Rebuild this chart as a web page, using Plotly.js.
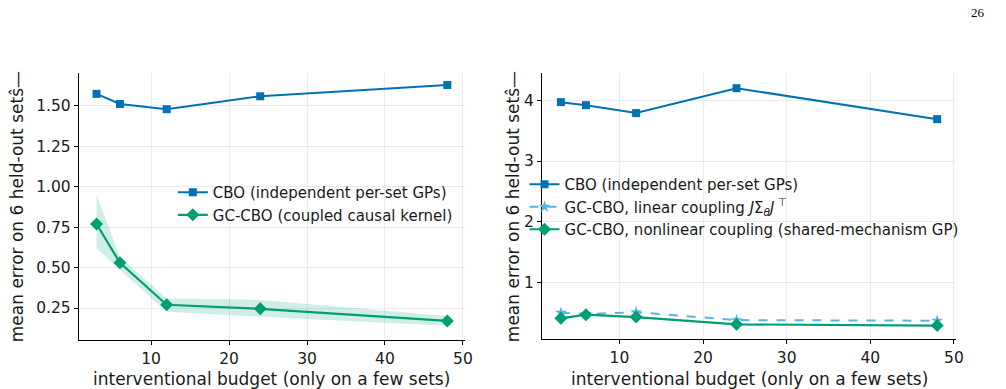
<!DOCTYPE html>
<html>
<head>
<meta charset="utf-8">
<script src="https://cdn.plot.ly/plotly-3.0.1.min.js"></script>
<style>html,body{margin:0;padding:0;background:#fff;}#chart{width:1006px;height:389px;}</style>
</head>
<body>
<div id="chart"></div>
<script>
// Interventional budgets shared by both panels
const budgets = [3, 6, 12, 24, 48];

// Left panel: mean error
const cboLeft = [1.575, 1.512, 1.48, 1.56, 1.63];
const gcLeft = [0.77, 0.53, 0.27, 0.245, 0.17];
const gcLeftUpper = [0.95, 0.566, 0.31, 0.30, 0.20];
const gcLeftLower = [0.62, 0.485, 0.227, 0.196, 0.14];

// Right panel: mean error
const cboRight = [3.97, 3.92, 3.79, 4.20, 3.69];
const linRight = [0.50, 0.48, 0.51, 0.38, 0.37];
const nonlinRight = [0.41, 0.47, 0.43, 0.31, 0.29];

const leftYTicks = [0.25, 0.50, 0.75, 1.00, 1.25, 1.50];
const rightYTicks = [1, 2, 3, 4];
const xTicks = [10, 20, 30, 40, 50];

const BLUE = '#0072B2', GREEN = '#009E73', LIGHT = '#56B4E9';
const FONT = 'DejaVu Sans, sans-serif';
const TXT = '#1a1a1a';

const traces = [
  {x: budgets, y: gcLeftLower, xaxis: 'x', yaxis: 'y', mode: 'lines',
   line: {width: 0, color: 'rgba(0,0,0,0)'}, showlegend: false, hoverinfo: 'skip'},
  {x: budgets, y: gcLeftUpper, xaxis: 'x', yaxis: 'y', mode: 'lines', fill: 'tonexty',
   fillcolor: 'rgba(0,158,115,0.18)', line: {width: 0, color: 'rgba(0,0,0,0)'},
   showlegend: false, hoverinfo: 'skip'},
  {x: budgets, y: cboLeft, xaxis: 'x', yaxis: 'y', mode: 'lines+markers',
   name: 'CBO (independent per-set GPs)', legend: 'legend',
   line: {color: BLUE, width: 2}, marker: {symbol: 'square', size: 8, color: BLUE}},
  {x: budgets, y: gcLeft, xaxis: 'x', yaxis: 'y', mode: 'lines+markers',
   name: 'GC-CBO (coupled causal kernel)', legend: 'legend',
   line: {color: GREEN, width: 2.2}, marker: {symbol: 'diamond', size: 10, color: GREEN}},
  {x: budgets, y: cboRight, xaxis: 'x2', yaxis: 'y2', mode: 'lines+markers',
   name: 'CBO (independent per-set GPs)', legend: 'legend2',
   line: {color: BLUE, width: 2}, marker: {symbol: 'square', size: 8, color: BLUE}},
  {x: budgets, y: linRight, xaxis: 'x2', yaxis: 'y2', mode: 'lines+markers',
   name: 'GC-CBO, linear coupling <i>J</i>Σ<sub><i>θ</i></sub><i>J</i><sup> ⊤</sup>', legend: 'legend2',
   line: {color: LIGHT, width: 2, dash: 'dash'}, marker: {symbol: 'star', size: 9, color: LIGHT}},
  {x: budgets, y: nonlinRight, xaxis: 'x2', yaxis: 'y2', mode: 'lines+markers',
   name: 'GC-CBO, nonlinear coupling (shared-mechanism GP)', legend: 'legend2',
   line: {color: GREEN, width: 2.2}, marker: {symbol: 'diamond', size: 10, color: GREEN}}
];

const axisCommon = {
  showline: true, linecolor: '#000', linewidth: 1.2, mirror: false,
  ticks: 'outside', ticklen: 4, tickwidth: 1, tickcolor: '#000',
  showgrid: true, gridcolor: '#ebebeb', gridwidth: 1, zeroline: false,
  tickfont: {family: FONT, size: 15.5, color: TXT}
};

const legendFont = {family: FONT, size: 15, color: TXT};

const layout = {
  width: 1006, height: 389,
  margin: {l: 79, r: 50, t: 73, b: 49},
  paper_bgcolor: '#fff', plot_bgcolor: '#fff',
  font: {family: FONT, color: TXT},
  xaxis: Object.assign({}, axisCommon, {domain: [0, 0.44], range: [0.75, 50.25],
    tickvals: xTicks, anchor: 'y'}),
  yaxis: Object.assign({}, axisCommon, {domain: [0, 1], range: [0.052, 1.704],
    tickvals: leftYTicks, tickformat: '.2f', anchor: 'x'}),
  xaxis2: Object.assign({}, axisCommon, {domain: [0.528, 1], range: [0.75, 50.25],
    tickvals: xTicks, anchor: 'y2'}),
  yaxis2: Object.assign({}, axisCommon, {domain: [0.004, 1], range: [0.07, 4.45],
    tickvals: rightYTicks, anchor: 'x2'}),
  legend: {x: 0.107, y: 0.408, xanchor: 'left', yanchor: 'bottom', traceorder: 'normal',
    bgcolor: 'rgba(255,255,255,0)', font: legendFont},
  legend2: {x: 0.508, y: 0.352, xanchor: 'left', yanchor: 'bottom', traceorder: 'normal',
    bgcolor: 'rgba(255,255,255,0)', font: legendFont},
  annotations: [
    {text: 'interventional budget (only on a few sets)', xref: 'paper', yref: 'paper',
     x: 0.22, y: -0.101, xanchor: 'center', yanchor: 'top', showarrow: false,
     font: {family: FONT, size: 17, color: TXT}},
    {text: 'interventional budget (only on a few sets)', xref: 'paper', yref: 'paper',
     x: 0.764, y: -0.101, xanchor: 'center', yanchor: 'top', showarrow: false,
     font: {family: FONT, size: 17, color: TXT}},
    {text: 'mean error on 6 held-out sets\u0302—', xref: 'paper', yref: 'paper',
     x: -0.071, y: 0.50, xanchor: 'center', yanchor: 'middle', textangle: -90, showarrow: false,
     font: {family: FONT, size: 17, color: TXT}},
    {text: 'mean error on 6 held-out sets\u0302—', xref: 'paper', yref: 'paper',
     x: 0.4945, y: 0.50, xanchor: 'center', yanchor: 'middle', textangle: -90, showarrow: false,
     font: {family: FONT, size: 17, color: TXT}},
    {text: '26', xref: 'paper', yref: 'paper', x: 1.025, y: 1.225,
     xanchor: 'center', yanchor: 'middle', showarrow: false,
     font: {family: 'Liberation Serif, DejaVu Serif, serif', size: 13, color: '#000'}}
  ]
};

Plotly.newPlot('chart', traces, layout, {displayModeBar: false, staticPlot: true});
</script>
</body>
</html>
